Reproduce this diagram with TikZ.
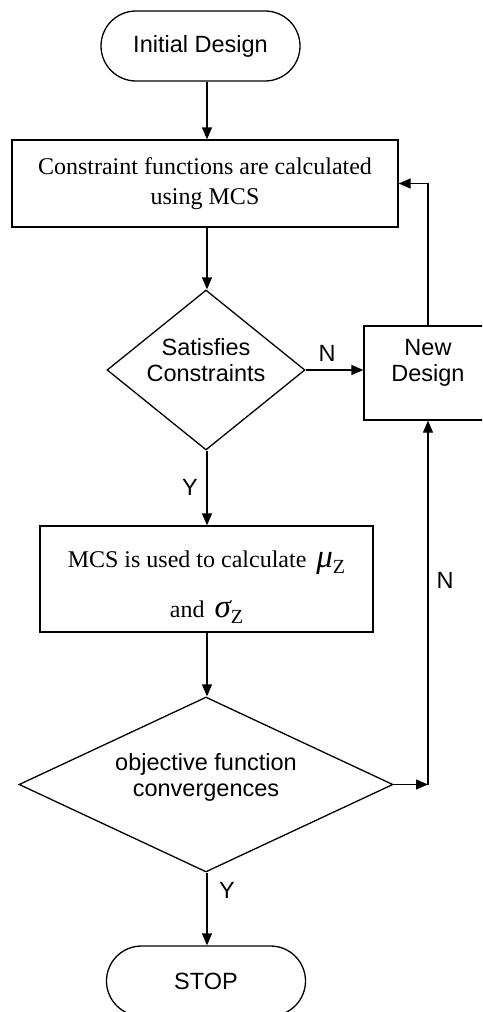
\documentclass[tikz,border=0pt]{standalone}
\usepackage{fontspec}
\setmainfont{Liberation Serif}
\newfontfamily\arialf{Liberation Sans}
\usetikzlibrary{shapes.geometric,arrows.meta}
\newcommand{\liftup}[2]{\raisebox{#1}[\height][\depth]{\begin{tabular}{@{}c@{}}#2\end{tabular}}}
\begin{document}
\begin{tikzpicture}[x=1pt,y=-1pt,
  every node/.style={inner sep=0pt},
  lbl/.style={font=\arialf\fontsize{23.5}{27}\selectfont},
  term/.style={draw, rectangle, rounded corners=35pt, minimum width=199pt, minimum height=70pt, lbl},
  proc/.style={draw, rectangle, align=center},
  dec/.style={draw, diamond, lbl, align=center},
  arr/.style={-{Triangle[length=12pt,width=10pt]}},
  line width=1.3pt]
\useasboundingbox (0,0) rectangle (482,1012);
\clip (0,0) rectangle (482,1012);
\coordinate (cx) at (207,0);
\node[term] (init) at (200.5,46) {Initial Design};
\node[proc, minimum width=386pt, minimum height=87pt, font=\fontsize{24}{30}\selectfont] (box1) at (205,183.5) {Constraint functions are calculated\\using MCS};
\node[dec, aspect=1.24, minimum width=198pt, minimum height=160pt] (d1) at (206,370)
  {\liftup{7pt}{Satisfies\\[-1pt]Constraints}};
\node[proc, minimum width=128pt, minimum height=94pt, lbl] (nd) at (428,373)
  {\liftup{10pt}{New\\[-1pt]Design}};
\node[proc, minimum width=333pt, minimum height=106pt, font=\fontsize{24}{30}\selectfont] (box2) at (206.5,579)
  {\liftup{-7pt}{MCS is used to calculate \,{\fontsize{33}{33}\selectfont\itshape μ}\raisebox{-6pt}{\fontsize{20}{20}\selectfont Z}\\[20pt]
   and \,{\fontsize{33}{33}\selectfont\itshape σ}\raisebox{-6pt}{\fontsize{20}{20}\selectfont Z}}};
\node[dec, aspect=2.14, minimum width=374pt, minimum height=175pt] (d2) at (206,784.5)
  {\liftup{6pt}{objective function\\[-1pt]convergences}};
\node[term] (stop) at (206,981) {STOP};
% labels
\node[lbl] (lN1) at (327,353) {N};
\node[lbl] (lY1) at (190,487) {Y};
\node[lbl] (lN2) at (445,580) {N};
\node[lbl] (lY2) at (227,890) {Y};
% connectors
\draw[arr] (init.south -| cx) -- (box1.north -| cx);
\draw[arr] (box1.south -| cx) -- (d1.north -| cx);
\draw[arr] (d1.east) -- (d1.east -| nd.west);
\draw[arr] (nd.north) |- (box1.east);
\draw[arr] (d1.south -| cx) -- (box2.north -| cx);
\draw[arr] (box2.south -| cx) -- (d2.north -| cx);
\coordinate (j) at (nd.south |- d2.east);
\draw[arr] (d2.east) -- (j);
\draw[arr] (j) -- (nd.south);
\draw[arr] (d2.south -| cx) -- (stop.north -| cx);
\end{tikzpicture}
\end{document}
